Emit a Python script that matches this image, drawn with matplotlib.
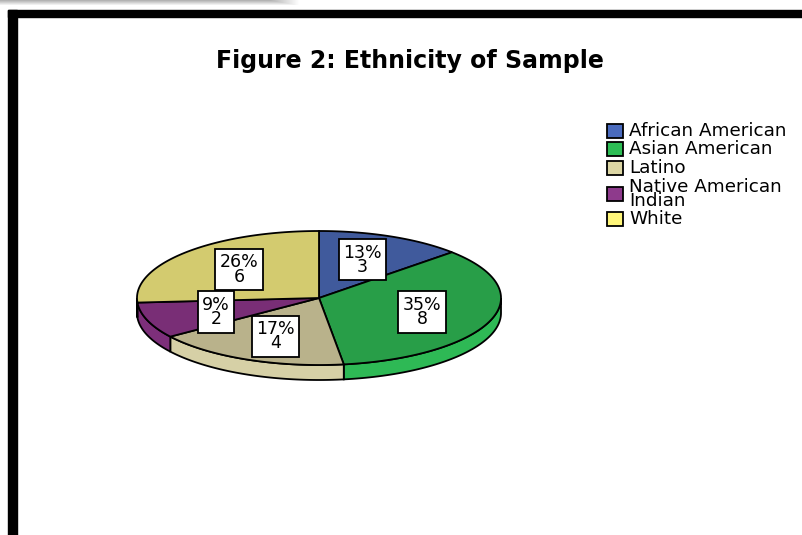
import numpy as np
import matplotlib.pyplot as plt
from matplotlib.patches import Polygon, Rectangle

# Data
groups = ['African American', 'Asian American', 'Latino', 'Native American\nIndian', 'White']
counts = [3, 8, 4, 2, 6]
pct_labels = ['13%', '35%', '17%', '9%', '26%']

top_colors = ['#405a9c', '#289e48', '#b9b28b', '#792e76', '#d3cb6f']
side_colors = ['#4a68b4', '#2eb955', '#d6d0a6', '#7d2f7a', '#e3db7e']
legend_colors = ['#4a6bbe', '#2dbe55', '#dcd6a4', '#8e3a8c', '#fff67a']

fig = plt.figure(figsize=(8.02, 5.35), dpi=100)
ax = fig.add_axes([0, 0, 1, 1])
ax.set_xlim(0, 802)
ax.set_ylim(535, 0)
ax.axis('off')

# frame: soft grey shadow strip, thick black border top + left
grad = np.linspace(0.7, 1.0, 6)[:, None] * np.ones((1, 300))
grad[:, 270:] = np.maximum(grad[:, 270:], np.linspace(0.7, 1.0, 30)[None, :])
ax.imshow(grad, cmap='gray', vmin=0, vmax=1, extent=(0, 300, 6, 0), aspect='auto', zorder=0)
ax.add_patch(Rectangle((8, 10), 802, 7, color='black', zorder=1))
ax.add_patch(Rectangle((8, 10), 9, 530, color='black', zorder=1))

ax.text(410, 61, 'Figure 2: Ethnicity of Sample', ha='center', va='center',
        fontsize=17, fontweight='bold', family='DejaVu Sans')

# pie geometry (pixel coords)
cx, cy, rx, ry, depth = 319, 298, 182, 67, 15

total = sum(counts)
ends = 90 - 360 * np.cumsum(counts) / total
starts = np.concatenate([[90], ends[:-1]])

def pt(a, dy=0.0):
    t = np.radians(a)
    return cx + rx * np.cos(t), cy - ry * np.sin(t) + dy

# side walls (front half only)
for s, e, col in zip(starts, ends, side_colors):
    a0, a1 = e, s
    for base in (-360, 0, 360):
        lo = max(a0, 180 + base)
        hi = min(a1, 360 + base)
        if hi <= lo:
            continue
        ang = np.linspace(lo, hi, 60)
        top = [pt(a) for a in ang]
        bot = [pt(a, depth) for a in ang[::-1]]
        ax.add_patch(Polygon(top + bot, closed=True, facecolor=col,
                             edgecolor='black', linewidth=1.3, zorder=2))

# top surface
for s, e, col in zip(starts, ends, top_colors):
    ang = np.linspace(s, e, 120)
    verts = [(cx, cy)] + [pt(a) for a in ang]
    ax.add_patch(Polygon(verts, closed=True, facecolor=col,
                         edgecolor='black', linewidth=1.3, zorder=3))

# value labels
for s, e, p, n in zip(starts, ends, pct_labels, counts):
    mid = np.radians((s + e) / 2)
    x = cx + 0.6 * rx * np.cos(mid)
    y = cy - 0.62 * ry * np.sin(mid)
    ax.text(x, y, f'{p}\n{n}', ha='center', va='center', fontsize=12.5,
            linespacing=0.75, family='DejaVu Sans', zorder=5,
            bbox=dict(boxstyle='square,pad=0.25', facecolor='white',
                      edgecolor='black', linewidth=1.3))

# legend
rows_y = [131, 149, 168, 194, 219]
for lab, col, y in zip(groups, legend_colors, rows_y):
    ax.add_patch(Rectangle((607, y - 7), 16, 14, facecolor=col,
                           edgecolor='black', linewidth=1.3, zorder=4))
    ax.text(629, y, lab, ha='left', va='center', fontsize=13.2,
            linespacing=0.78, family='DejaVu Sans')

fig.savefig('out.png', dpi=100)
